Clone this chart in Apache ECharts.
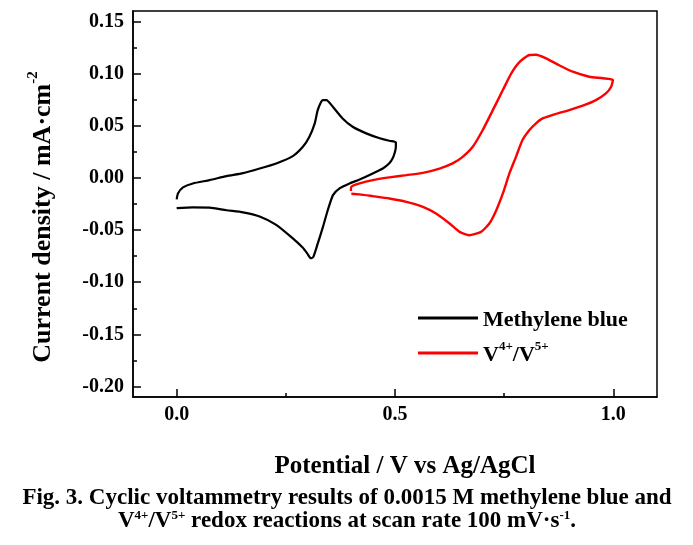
<!DOCTYPE html>
<html>
<head>
<meta charset="utf-8">
<script src="https://cdn.jsdelivr.net/npm/echarts@6/dist/echarts.min.js"></script>
<style>
html,body{margin:0;padding:0;background:#fff;}
#chart{width:693px;height:545px;}
</style>
</head>
<body>
<div id="chart"></div>
<script>
// ---- data ----
var mbPotential = [0.000, 0.003, 0.0145, 0.037, 0.0755, 0.114, 0.152, 0.190, 0.228, 0.266, 0.289, 0.304, 0.316, 0.323, 0.331, 0.335, 0.343, 0.358, 0.380, 0.403, 0.434, 0.465, 0.487, 0.499, 0.502,
                   0.502, 0.500, 0.495, 0.487, 0.472, 0.449, 0.419, 0.396, 0.373, 0.358, 0.346, 0.335, 0.323, 0.313, 0.307, 0.300, 0.289, 0.266, 0.228, 0.190, 0.152, 0.114, 0.0755, 0.037, 0.000];
var mbCurrent = [-0.0206, -0.0149, -0.0091, -0.0053, -0.0021, 0.0017, 0.0046, 0.009, 0.0139, 0.0209, 0.0298, 0.0394, 0.052, 0.065, 0.073, 0.0746, 0.0746, 0.068, 0.057, 0.049, 0.0427, 0.038, 0.0356, 0.0347, 0.034,
                 0.030, 0.025, 0.019, 0.014, 0.009, 0.0043, -0.0015, -0.0053, -0.010, -0.0165, -0.031, -0.047, -0.063, -0.0757, -0.077, -0.073, -0.067, -0.058, -0.045, -0.037, -0.033, -0.031, -0.0285, -0.0283, -0.029];
var vPotential = [0.399, 0.400, 0.419, 0.449, 0.487, 0.526, 0.564, 0.602, 0.632, 0.655, 0.678, 0.701, 0.724, 0.747, 0.766, 0.785, 0.808, 0.823, 0.846, 0.876, 0.907, 0.945, 0.976, 0.999,
                  0.995, 0.983, 0.960, 0.930, 0.899, 0.867, 0.838, 0.823, 0.808, 0.792, 0.777, 0.762, 0.747, 0.732, 0.716, 0.697, 0.670, 0.648, 0.625, 0.594, 0.564, 0.526, 0.487, 0.449, 0.419, 0.400];
var vCurrent = [-0.0125, -0.0085, -0.0053, -0.0021, 0.0005, 0.0027, 0.0049, 0.009, 0.0139, 0.0202, 0.0298, 0.0459, 0.065, 0.0842, 0.100, 0.111, 0.1178, 0.118, 0.1146, 0.108, 0.1018, 0.097, 0.0955, 0.0938,
                0.0874, 0.081, 0.0746, 0.0692, 0.065, 0.0612, 0.057, 0.0523, 0.0459, 0.0363, 0.0202, 0.0043, -0.0149, -0.0309, -0.0437, -0.0517, -0.0549, -0.0517, -0.0437, -0.0341, -0.0277, -0.0229, -0.0197, -0.0175, -0.0158, -0.0152];
var seriesNames = ['Methylene blue', 'V4+/V5+'];
var xMajorTicks = [0.0, 0.5, 1.0];
var xMinorTicks = [0.25, 0.75];
var yMajorTicks = [-0.20, -0.15, -0.10, -0.05, 0.00, 0.05, 0.10, 0.15];
var yMinorTicks = [-0.175, -0.125, -0.075, -0.025, 0.025, 0.075, 0.125];

function zip(a, b) { return a.map(function (v, i) { return [v, b[i]]; }); }

var FONT = '"Liberation Serif","Times New Roman",serif';
var chart = echarts.init(document.getElementById('chart'), null, {renderer: 'canvas'});

var option = {
  backgroundColor: '#fff',
  animation: false,
  grid: {left: 133, right: 36, top: 11, bottom: 148, show: true, borderColor: '#000', borderWidth: 1.5, backgroundColor: 'transparent'},
  xAxis: [{
    type: 'value', min: -0.1, max: 1.1,
    splitLine: {show: false},
    axisLine: {show: true, onZero: false, lineStyle: {color: '#000', width: 1.5}},
    axisTick: {show: true, inside: true, length: 8, customValues: xMajorTicks, lineStyle: {color: '#000', width: 1.5}},
    axisLabel: {customValues: xMajorTicks, margin: 8, color: '#000', fontFamily: FONT, fontWeight: 'bold', fontSize: 20,
                formatter: function (v) { return v.toFixed(1); }},
    name: 'Potential / V vs Ag/AgCl', nameLocation: 'middle', nameGap: 57,
    nameTextStyle: {color: '#000', fontFamily: FONT, fontWeight: 'bold', fontSize: 25, padding: [0, 0, 0, 20]}
  }, {
    type: 'value', min: -0.1, max: 1.1, position: 'bottom',
    splitLine: {show: false}, axisLine: {show: false, onZero: false},
    axisTick: {show: true, inside: true, length: 4, customValues: xMinorTicks, lineStyle: {color: '#000', width: 1.5}},
    axisLabel: {show: false}
  }],
  yAxis: [{
    type: 'value', min: -0.21, max: 0.16,
    splitLine: {show: false},
    axisLine: {show: true, onZero: false, lineStyle: {color: '#000', width: 1.5}},
    axisTick: {show: true, inside: true, length: 8, customValues: yMajorTicks, lineStyle: {color: '#000', width: 1.5}},
    axisLabel: {customValues: yMajorTicks, margin: 9, color: '#000', fontFamily: FONT, fontWeight: 'bold', fontSize: 20,
                formatter: function (v) { return v.toFixed(2); }},
    name: '{a|Current density / mA·cm}{s|-2}', nameLocation: 'middle', nameGap: 77,
    nameTextStyle: {color: '#000', fontFamily: FONT, fontWeight: 'bold', fontSize: 26, padding: [0, 26, 0, 0],
      rich: {a: {fontFamily: FONT, fontWeight: 'bold', fontSize: 26, lineHeight: 30, verticalAlign: 'bottom', color: '#000'},
             s: {fontFamily: FONT, fontWeight: 'bold', fontSize: 15, lineHeight: 30, verticalAlign: 'top', color: '#000'}}}
  }, {
    type: 'value', min: -0.21, max: 0.16, position: 'left',
    splitLine: {show: false}, axisLine: {show: false, onZero: false},
    axisTick: {show: true, inside: true, length: 4, customValues: yMinorTicks, lineStyle: {color: '#000', width: 1.5}},
    axisLabel: {show: false}
  }],
  legend: {
    orient: 'vertical', left: 418, top: 309, padding: 0, itemWidth: 60, itemHeight: 3, itemGap: 9, icon: 'rect',
    data: [{name: seriesNames[0], itemStyle: {color: '#000'}}, {name: seriesNames[1], itemStyle: {color: '#ff0000'}}],
    formatter: function (name) {
      if (name === seriesNames[1]) return '{n|V}{s|4+}{n|/V}{s|5+}';
      return '{n|' + name + '}';
    },
    textStyle: {color: '#000', fontFamily: FONT, fontWeight: 'bold', fontSize: 22,
      rich: {n: {fontFamily: FONT, fontWeight: 'bold', fontSize: 22, lineHeight: 26, verticalAlign: 'bottom', color: '#000'},
             s: {fontFamily: FONT, fontWeight: 'bold', fontSize: 13, lineHeight: 26, verticalAlign: 'top', color: '#000'}}}
  },
  series: [{
    name: seriesNames[0], type: 'line', xAxisIndex: 0, yAxisIndex: 0,
    data: zip(mbPotential, mbCurrent), showSymbol: false, symbol: 'none', smooth: 0.2,
    lineStyle: {color: '#000', width: 2.2}, itemStyle: {color: '#000'}
  }, {
    name: seriesNames[1], type: 'line', xAxisIndex: 0, yAxisIndex: 0,
    data: zip(vPotential, vCurrent), showSymbol: false, symbol: 'none', smooth: 0.2,
    lineStyle: {color: '#ff0000', width: 2.4}, itemStyle: {color: '#ff0000'}
  }],
  graphic: [{
    type: 'text', x: 347, y: 498,
    style: {text: 'Fig. 3. Cyclic voltammetry results of 0.0015 M methylene blue and', align: 'center', verticalAlign: 'middle',
            fill: '#000', font: 'bold 23px ' + FONT}
  }, {
    type: 'text', x: 347, y: 521,
    style: {text: '{n|V}{s|4+}{n|/V}{s|5+}{n| redox reactions at scan rate 100 mV·s}{s|-1}{n|.}', align: 'center', verticalAlign: 'middle',
            fill: '#000', font: 'bold 23px ' + FONT,
            rich: {n: {fontFamily: FONT, fontWeight: 'bold', fontSize: 23, lineHeight: 24, verticalAlign: 'bottom'},
                   s: {fontFamily: FONT, fontWeight: 'bold', fontSize: 13, lineHeight: 24, verticalAlign: 'top'}}}
  }]
};
chart.setOption(option);
</script>
</body>
</html>
